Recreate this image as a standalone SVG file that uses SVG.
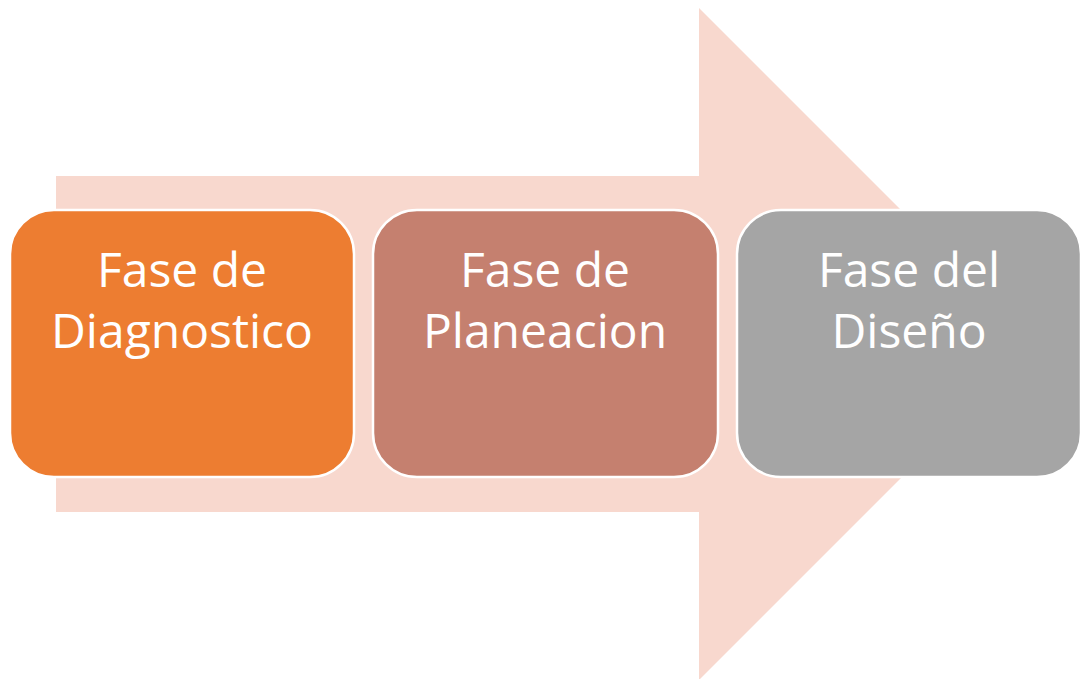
<svg xmlns="http://www.w3.org/2000/svg" width="1083" height="679" viewBox="0 0 1083 679">
<style>
.box{stroke:#fff;stroke-width:2.5}
.lbl{font-family:"Open Sans","Liberation Sans",sans-serif;font-size:48px;fill:#fff;text-anchor:middle}
</style>
<rect width="1083" height="679" fill="#fff"/>
<g id="arrow">
<polygon points="56,176 699,176 699,8 1035,344 699,680 699,512 56,512" fill="#F8D8CE"/>
</g>
<g id="connectors"></g>
<g id="node1">
<rect class="box" x="10" y="210" width="344" height="267" rx="44" fill="#ED7D31"/>
<text class="lbl" x="182" y="287">Fase de</text>
<text class="lbl" x="182" y="348">Diagnostico</text>
</g>
<g id="node2">
<rect class="box" x="373" y="210" width="345" height="267" rx="44" fill="#C5806F"/>
<text class="lbl" x="545" y="287">Fase de</text>
<text class="lbl" x="545" y="348">Planeacion</text>
</g>
<g id="node3">
<rect class="box" x="737" y="210" width="344" height="267" rx="44" fill="#A5A5A5"/>
<text class="lbl" x="909" y="287">Fase del</text>
<text class="lbl" x="909" y="348">Diseño</text>
</g>
</svg>
